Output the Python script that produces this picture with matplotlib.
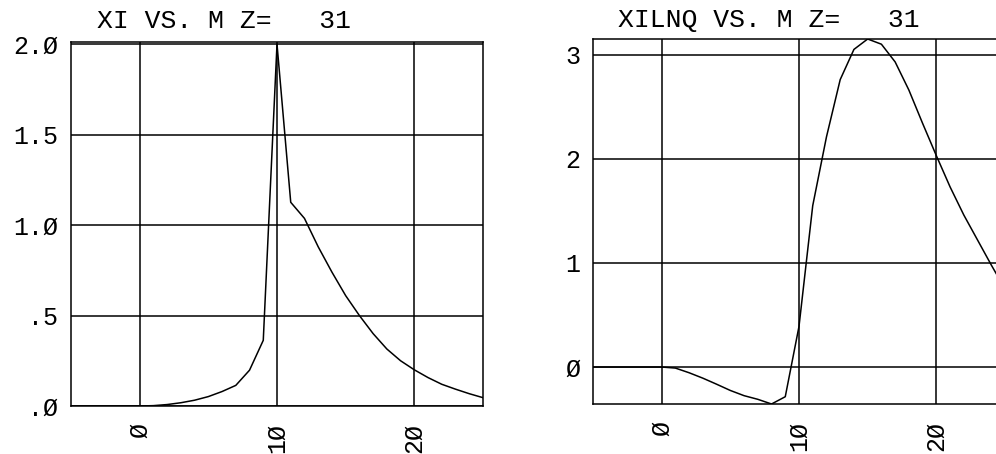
import numpy as np
import matplotlib.pyplot as plt

plt.rcParams['font.family'] = ['Liberation Mono', 'DejaVu Sans Mono']

# mode index M and the two response curves for Z = 31
m = np.arange(-5, 26)
xi = [0, 0, 0, 0, 0, 0,
      0.002, 0.008, 0.018, 0.032, 0.052, 0.080, 0.114, 0.198, 0.363,
      2.0, 1.126, 1.037, 0.88, 0.74, 0.61, 0.50, 0.40, 0.315, 0.25,
      0.20, 0.157, 0.12, 0.093, 0.068, 0.046]
xilnq = [0, 0, 0, 0, 0, 0,
         -0.01, -0.055, -0.107, -0.165, -0.225, -0.275, -0.31, -0.355, -0.285,
         0.39, 1.55, 2.21, 2.76, 3.05, 3.15, 3.10, 2.93, 2.66, 2.34,
         2.03, 1.73, 1.46, 1.22, 0.98, 0.75]

x_ticks = [0, 10, 20]
x_labels = ['Ø', '1Ø', '2Ø']
xi_ticks = [0, 0.5, 1.0, 1.5, 2.0]
xi_labels = ['.Ø', '.5', '1.Ø', '1.5', '2.Ø']
xilnq_ticks = [0, 1, 2, 3]
xilnq_labels = ['Ø', '1', '2', '3']

W, H = 996, 454
fig = plt.figure(figsize=(W / 100, H / 100), dpi=100)

LW = 1.1
FS = 18


def panel(rect, y, yticks, ylabels, ylim, title, title_xy):
    ax = fig.add_axes(rect)
    ax.plot(m, y, color='black', lw=1.1)
    ax.set_xlim(-5, 25)
    ax.set_ylim(*ylim)
    ax.set_xticks(x_ticks)
    ax.set_xticklabels(x_labels, rotation=90, va='top', fontsize=FS)
    ax.set_yticks(yticks)
    ax.set_yticklabels(ylabels, fontsize=FS)
    ax.tick_params(length=0)
    ax.tick_params(axis='x', pad=12)
    ax.tick_params(axis='y', pad=9)
    ax.grid(True, color='black', lw=LW)
    for s in ax.spines.values():
        s.set_linewidth(LW)
    fig.text(title_xy[0] / W, 1 - title_xy[1] / H, title,
             fontsize=19, ha='left', va='baseline')
    return ax


panel([71 / W, 1 - 406 / H, 412 / W, 364 / H], xi, xi_ticks, xi_labels,
      (0, 2.012), 'XI VS. M Z=   31', (97, 28))
panel([593 / W, 1 - 404 / H, 412 / W, 365 / H], xilnq, xilnq_ticks, xilnq_labels,
      (min(xilnq), max(xilnq)), 'XILNQ VS. M Z=   31', (618, 27))

fig.savefig('out.png', dpi=100)
